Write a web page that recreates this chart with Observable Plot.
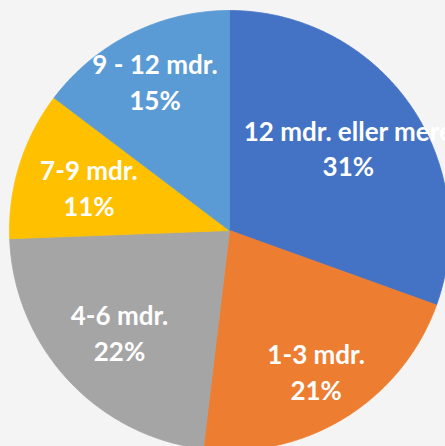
<!DOCTYPE html>
<html>
<head>
<meta charset="utf-8">
<script src="https://cdn.jsdelivr.net/npm/d3@7"></script>
<script src="https://cdn.jsdelivr.net/npm/@observablehq/plot@0.6"></script>
<style>
  html, body { margin: 0; padding: 0; background: #f4f4f4; overflow: hidden; }
  svg { display: block; }
</style>
</head>
<body>
<div id="chart"></div>
<script>
// ---- data ----
const categories = ["12 mdr. eller mere", "1-3 mdr.", "4-6 mdr.", "7-9 mdr.", "9 - 12 mdr."];
const shares = [30.5, 21.4, 22.5, 10.9, 14.7];
const percentLabels = ["31%", "21%", "22%", "11%", "15%"];
const colors = ["#4472C4", "#ED7D31", "#A5A5A5", "#FFC000", "#5B9BD5"];

// ---- layout (not data) ----
const W = 445, H = 446;
const CX = 229, CY = 230, R = 220;   // pie centre and radius in pixels
// radial distance of each data label, as a fraction of the radius (Excel "best fit" look)
const labelFrac = {"12 mdr. eller mere": 0.66, "1-3 mdr.": 0.75, "4-6 mdr.": 0.68, "7-9 mdr.": 0.67, "9 - 12 mdr.": 0.76};

const data = categories.map((c, i) => ({category: c, share: shares[i], pct: percentLabels[i]}));
const arcs = d3.pie().sort(null).value(d => d.share)(data);

// slice outlines in unit-circle coordinates (angle 0 at 12 o'clock, clockwise)
const slicePts = [];
for (const a of arcs) {
  const cat = a.data.category;
  slicePts.push({category: cat, x: 0, y: 0});
  const n = Math.max(2, Math.ceil((a.endAngle - a.startAngle) / (Math.PI / 360)));
  for (let k = 0; k <= n; k++) {
    const t = a.startAngle + (a.endAngle - a.startAngle) * k / n;
    slicePts.push({category: cat, x: Math.sin(t), y: Math.cos(t)});
  }
  slicePts.push({category: cat, x: 0, y: 0});
}

const labels = arcs.map(a => {
  const m = (a.startAngle + a.endAngle) / 2;
  const f = labelFrac[a.data.category];
  return {
    x: f * Math.sin(m),
    y: f * Math.cos(m),
    text: a.data.category + "\n" + a.data.pct
  };
});

const chart = Plot.plot({
  width: W,
  height: H,
  margin: 0,
  style: {background: "#f4f4f4", overflow: "hidden"},
  x: {axis: null, domain: [-CX / R, (W - CX) / R]},
  y: {axis: null, domain: [-(H - CY) / R, CY / R]},
  color: {type: "ordinal", domain: categories, range: colors},
  marks: [
    Plot.line(slicePts, {x: "x", y: "y", z: "category", fill: "category", stroke: "category", strokeWidth: 0.8}),
    Plot.text(labels, {
      x: "x", y: "y", text: "text",
      fill: "white",
      fontSize: 26,
      fontWeight: "bold",
      fontFamily: "Lato, 'Open Sans', sans-serif",
      lineHeight: 1.38
    })
  ]
});
document.getElementById("chart").append(chart);
</script>
</body>
</html>
